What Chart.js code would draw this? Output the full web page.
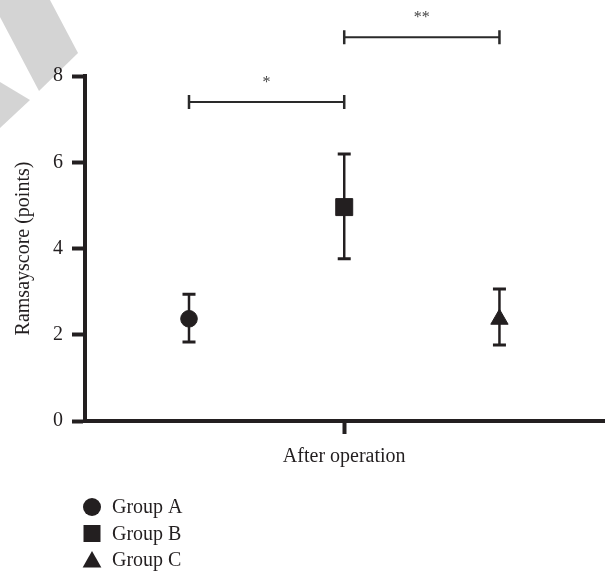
<!DOCTYPE html>
<html>
<head>
<meta charset="utf-8">
<script src="https://cdn.jsdelivr.net/npm/chart.js@4.4.1/dist/chart.umd.min.js"></script>
<style>
  body { margin: 0; background: #fff; }
  #wrap { position: relative; width: 605px; height: 571px; }
  .mark { position: absolute; left: 0; top: 0; width: 100px; height: 140px; background: #d4d4d4; }
  #m1 { clip-path: polygon(0 0, 50px 0, 78px 53px, 39px 91px, 0 17px); }
  #m2 { clip-path: polygon(0 82px, 30px 100px, 0 128px); }
  canvas { position: absolute; left: 0; top: 0; }
</style>
</head>
<body>
<div id="wrap">
  <div class="mark" id="m1"></div>
  <div class="mark" id="m2"></div>
  <canvas id="chart" width="605" height="571"></canvas>
</div>
<script>
// data
const groups = ['Group A', 'Group B', 'Group C'];
const groupX = [-1, 0, 1];
const means = [2.37, 4.96, 2.36];
const lower = [1.83, 3.76, 1.76];
const upper = [2.94, 6.19, 3.06];
const pointStyles = ['circle', 'rect', 'triangle'];
const yTicks = [0, 2, 4, 6, 8];
const xLabel = 'After operation';
const yTitle = 'Ramsayscore (points)';

// significance brackets (group index from/to, height in points, label)
const bracketFrom = [0, 1];
const bracketTo = [1, 2];
const bracketY = [7.4, 8.9];
const bracketText = ['*', '**'];

const ink = '#231f20';
const serif = "'Liberation Serif', 'Times New Roman', serif";

function drawMarker(ctx, style, x, y, size) {
    ctx.beginPath();
    if (style === 'circle') {
        ctx.arc(x, y, size / 2, 0, Math.PI * 2);
    } else if (style === 'rect') {
        ctx.rect(x - size / 2, y - size / 2, size, size);
    } else {
        ctx.moveTo(x, y - size * 0.5);
        ctx.lineTo(x + size * 0.52, y + size * 0.42);
        ctx.lineTo(x - size * 0.52, y + size * 0.42);
        ctx.closePath();
    }
    ctx.fill();
}

// error bars under the points
const errorBars = {
    id: 'errorBars',
    beforeDatasetsDraw(chart) {
        const { ctx, scales: { x, y } } = chart;
        ctx.save();
        ctx.strokeStyle = ink;
        groups.forEach((g, i) => {
            const px = x.getPixelForValue(groupX[i]);
            const top = y.getPixelForValue(upper[i]);
            const bot = y.getPixelForValue(lower[i]);
            ctx.lineWidth = 2.5;
            ctx.beginPath();
            ctx.moveTo(px, top);
            ctx.lineTo(px, bot);
            ctx.stroke();
            ctx.lineWidth = 3;
            ctx.beginPath();
            ctx.moveTo(px - 6.5, top); ctx.lineTo(px + 6.5, top);
            ctx.moveTo(px - 6.5, bot); ctx.lineTo(px + 6.5, bot);
            ctx.stroke();
        });
        ctx.restore();
    }
};

// brackets with stars above
const brackets = {
    id: 'brackets',
    afterDraw(chart) {
        const { ctx, scales: { x, y } } = chart;
        ctx.save();
        bracketText.forEach((t, i) => {
            const x1 = x.getPixelForValue(groupX[bracketFrom[i]]);
            const x2 = x.getPixelForValue(groupX[bracketTo[i]]);
            const py = y.getPixelForValue(bracketY[i]);
            ctx.strokeStyle = '#2a2a2a';
            ctx.lineWidth = 2;
            ctx.beginPath();
            ctx.moveTo(x1, py); ctx.lineTo(x2, py);
            ctx.stroke();
            ctx.lineWidth = 2.5;
            ctx.beginPath();
            ctx.moveTo(x1, py - 7); ctx.lineTo(x1, py + 7);
            ctx.moveTo(x2, py - 7); ctx.lineTo(x2, py + 7);
            ctx.stroke();
            ctx.fillStyle = '#444';
            ctx.font = '16px ' + serif;
            ctx.textAlign = 'center';
            ctx.textBaseline = 'middle';
            ctx.fillText(t, (x1 + x2) / 2, py - 19);
        });
        ctx.restore();
    }
};

// legend stacked at bottom left
const stackLegend = {
    id: 'stackLegend',
    afterDraw(chart) {
        const { ctx, chartArea } = chart;
        const sizes = [18, 17, 18];
        ctx.save();
        ctx.fillStyle = ink;
        ctx.font = '20px ' + serif;
        ctx.textAlign = 'left';
        ctx.textBaseline = 'middle';
        groups.forEach((g, i) => {
            const ly = chartArea.bottom + 86 + i * 26.5;
            drawMarker(ctx, pointStyles[i], 92, ly, sizes[i]);
            ctx.fillText(g, 112, ly + 1);
        });
        ctx.restore();
    }
};

new Chart(document.getElementById('chart'), {
    type: 'scatter',
    data: {
        datasets: groups.map((g, i) => ({
            label: g,
            data: [{ x: groupX[i], y: means[i] }],
            pointStyle: pointStyles[i],
            pointRadius: [8.3, 12, 10][i],
            backgroundColor: ink,
            borderColor: ink,
            borderWidth: 1
        }))
    },
    options: {
        responsive: false,
        animation: false,
        events: [],
        layout: { autoPadding: false, padding: { top: 76, right: 0, bottom: 100, left: 0 } },
        plugins: {
            legend: { display: false },
            tooltip: { enabled: false }
        },
        scales: {
            x: {
                type: 'linear',
                min: -1.67,
                max: 1.68,
                afterBuildTicks: s => { s.ticks = [{ value: 0 }]; },
                afterFit: s => {
                    s.height = 50;
                    s.paddingLeft = 0;
                    s.paddingRight = 0;
                },
                ticks: {
                    callback: () => xLabel,
                    color: ink,
                    font: { family: serif, size: 20 },
                    padding: 11,
                    maxRotation: 0,
                    autoSkip: false
                },
                grid: { drawOnChartArea: false, drawTicks: true, tickLength: 13, tickWidth: 4, tickColor: ink },
                border: { color: ink, width: 4 }
            },
            y: {
                min: 0,
                max: 8,
                afterBuildTicks: s => { s.ticks = yTicks.map(v => ({ value: v })); },
                afterFit: s => { s.width = 85; },
                ticks: {
                    color: ink,
                    font: { family: serif, size: 20 },
                    padding: 9
                },
                title: {
                    display: true,
                    text: yTitle,
                    color: ink,
                    font: { family: serif, size: 20 },
                    padding: { top: 12, bottom: 0 }
                },
                grid: { drawOnChartArea: false, drawTicks: true, tickLength: 13, tickWidth: 4, tickColor: ink },
                border: { color: ink, width: 4 }
            }
        }
    },
    plugins: [errorBars, brackets, stackLegend]
});
</script>
</body>
</html>
